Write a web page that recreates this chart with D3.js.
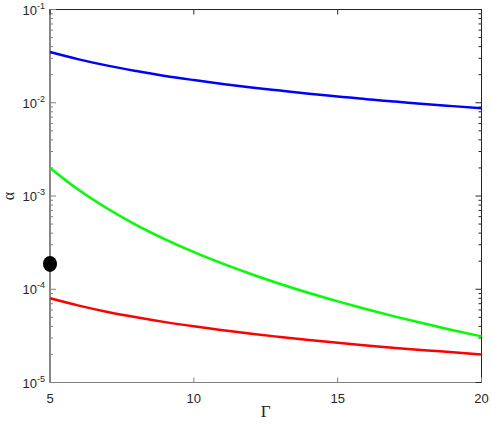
<!DOCTYPE html>
<html><head><meta charset="utf-8">
<script src="https://cdn.jsdelivr.net/npm/d3@7"></script>
<style>body{margin:0;background:#fff}svg{display:block}</style>
</head><body>
<svg id="c" width="491" height="427"></svg>
<script>
const gamma = [5,6,7,8,9,10,11,12,13,14,15,16,17,18,19,20];
const blue  = [0.035,0.0292,0.025,0.0219,0.0194,0.0175,0.0159,0.0146,0.0135,0.0125,0.0117,0.0109,0.0103,0.0097,0.0092,0.00875];
const green = [0.002,0.001157,0.000729,0.000488,0.000343,0.00025,0.000188,0.000145,0.000114,9.11e-5,7.41e-5,6.10e-5,5.09e-5,4.29e-5,3.64e-5,3.125e-5];
const red   = [8e-5,6.67e-5,5.71e-5,5e-5,4.44e-5,4e-5,3.64e-5,3.33e-5,3.08e-5,2.86e-5,2.67e-5,2.5e-5,2.35e-5,2.22e-5,2.11e-5,2e-5];
const point = {g:5, a:1.87e-4};
const xTicks = [5,10,15,20];
const yExps = [-5,-4,-3,-2,-1];

const L=50, R=481.5, T=9.5, B=382.5;
const svg = d3.select("#c");
const x = d3.scaleLinear().domain([5,20]).range([L,R]);
const y = d3.scaleLog().domain([1e-5,1e-1]).range([B,T]);

// frame
svg.append("rect").attr("x",L).attr("y",T).attr("width",R-L).attr("height",B-T)
  .attr("fill","none").attr("stroke","#262626").attr("stroke-width",1);
svg.append("line").attr("x1",L).attr("x2",L).attr("y1",T).attr("y2",B).attr("stroke","#808080");
svg.append("line").attr("x1",L).attr("x2",R).attr("y1",B).attr("y2",B).attr("stroke","#808080");

// y ticks
const g = svg.append("g");
yExps.forEach(e=>{
  for(let m=1;m<=9;m++){
    const v = m*Math.pow(10,e);
    if(e===-1 && m>1) continue;
    const yy = y(v);
    const len = m===1?6:3;
    g.append("line").attr("x1",L).attr("x2",L+len).attr("y1",yy).attr("y2",yy).attr("stroke","#808080");
    g.append("line").attr("x1",R).attr("x2",R-len).attr("y1",yy).attr("y2",yy).attr("stroke","#262626");
  }
  const t = g.append("text").attr("x",L-5).attr("y",y(Math.pow(10,e))+5)
    .attr("text-anchor","end").attr("font-family","Liberation Sans, Arial, sans-serif")
    .attr("font-size",13).attr("fill","#262626");
  t.append("tspan").text("10");
  t.append("tspan").attr("dy",-6).attr("font-size",9).text(String(e));
});
// x ticks
xTicks.forEach(v=>{
  const xx = x(v);
  g.append("line").attr("x1",xx).attr("x2",xx).attr("y1",B).attr("y2",B-5).attr("stroke","#808080");
  g.append("line").attr("x1",xx).attr("x2",xx).attr("y1",T).attr("y2",T+5).attr("stroke","#262626");
  g.append("text").attr("x",xx).attr("y",B+20).attr("text-anchor","middle")
    .attr("font-family","Liberation Sans, Arial, sans-serif").attr("font-size",13).attr("fill","#262626").text(v);
});

// labels
svg.append("text").attr("x",(L+R)/2).attr("y",417).attr("text-anchor","middle")
  .attr("font-family","Liberation Serif, Times New Roman, serif").attr("font-size",17).attr("fill","#262626").text("Γ");
svg.append("text").attr("transform",`translate(14,${(T+B)/2}) rotate(-90)`).attr("text-anchor","middle")
  .attr("font-family","Liberation Serif, Times New Roman, serif").attr("font-size",16).attr("fill","#262626").text("α");

// lines
const line = d3.line().x((d,i)=>x(gamma[i])).y(d=>y(d)).curve(d3.curveMonotoneX);
[[blue,"#0000ff"],[green,"#00ff00"],[red,"#ff0000"]].forEach(([s,c])=>{
  svg.append("path").attr("d",line(s)).attr("fill","none").attr("stroke",c).attr("stroke-width",2.5);
});
svg.append("ellipse").attr("cx",x(point.g)).attr("cy",y(point.a)).attr("rx",7).attr("ry",8).attr("fill","#000");
</script>
</body></html>
